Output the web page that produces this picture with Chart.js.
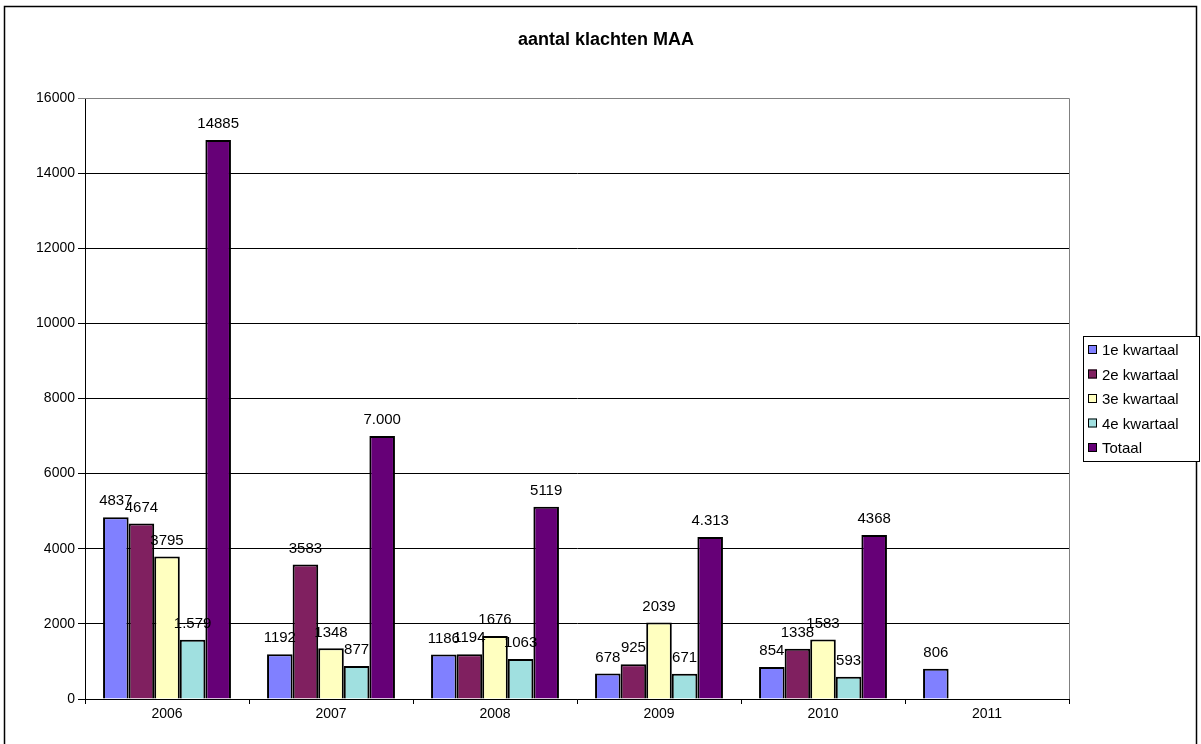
<!DOCTYPE html>
<html lang="nl">
<head>
    <meta charset="UTF-8">
    <title>aantal klachten MAA</title>
    <script src="https://cdn.jsdelivr.net/npm/chart.js"></script>
    <style>
        html, body { margin: 0; padding: 0; background: #fff; }
        #wrap { width: 1201px; height: 744px; }
    </style>
</head>
<body>
    <div id="wrap"><canvas id="klachtenChart" width="1201" height="744"></canvas></div>

    <script>
        // data
        const titleText = 'aantal klachten MAA';
        const years = ['2006', '2007', '2008', '2009', '2010', '2011'];
        const seriesNames = ['1e kwartaal', '2e kwartaal', '3e kwartaal', '4e kwartaal', 'Totaal'];
        const kwartaal1 = [4837, 1192, 1186, 678, 854, 806];
        const kwartaal2 = [4674, 3583, 1194, 925, 1338, null];
        const kwartaal3 = [3795, 1348, 1676, 2039, 1583, null];
        const kwartaal4 = [1579, 877, 1063, 671, 593, null];
        const totaal = [14885, 7000, 5119, 4313, 4368, null];
        // labels as printed on the bars (some use a thousands dot)
        const labels1 = ['4837', '1192', '1186', '678', '854', '806'];
        const labels2 = ['4674', '3583', '1194', '925', '1338', ''];
        const labels3 = ['3795', '1348', '1676', '2039', '1583', ''];
        const labels4 = ['1.579', '877', '1063', '671', '593', ''];
        const labelsTot = ['14885', '7.000', '5119', '4.313', '4368', ''];
        const yTicks = [0, 2000, 4000, 6000, 8000, 10000, 12000, 14000, 16000];

        const colors = ['#8080ff', '#802060', '#ffffc0', '#a0e0e0', '#660077'];
        const allValues = [kwartaal1, kwartaal2, kwartaal3, kwartaal4, totaal];
        const allLabels = [labels1, labels2, labels3, labels4, labelsTot];

        const FONT = '"Liberation Sans", Arial, sans-serif';

        // frame, title, bar value labels and legend box
        const excelLook = {
            id: 'excelLook',
            afterDraw(chart) {
                const ctx = chart.ctx;
                const area = chart.chartArea;
                ctx.save();

                // plot area border top/right in grey
                ctx.strokeStyle = '#808080';
                ctx.lineWidth = 1;
                ctx.beginPath();
                ctx.moveTo(area.left, area.top + 0.5);
                ctx.lineTo(area.right + 0.5, area.top + 0.5);
                ctx.lineTo(area.right + 0.5, area.bottom);
                ctx.stroke();

                // outer frame
                ctx.strokeStyle = '#000';
                ctx.lineWidth = 1.5;
                ctx.strokeRect(4.5, 6.5, 1192, 760);

                // title
                ctx.fillStyle = '#000';
                ctx.font = 'bold 18px ' + FONT;
                ctx.textAlign = 'center';
                ctx.textBaseline = 'middle';
                ctx.fillText(titleText, 606, 40);

                // value labels
                ctx.font = '15px ' + FONT;
                chart.data.datasets.forEach((ds, i) => {
                    const meta = chart.getDatasetMeta(i);
                    meta.data.forEach((bar, j) => {
                        const txt = allLabels[i][j];
                        if (!txt || ds.data[j] == null) return;
                        ctx.fillText(txt, bar.x, bar.y - 16);
                    });
                });

                // legend
                const lx = 1083, ly = 336, lw = 116, lh = 125;
                ctx.fillStyle = '#fff';
                ctx.fillRect(lx, ly, lw, lh);
                ctx.strokeStyle = '#000';
                ctx.lineWidth = 1;
                ctx.strokeRect(lx + 0.5, ly + 0.5, lw, lh);
                ctx.font = '15px ' + FONT;
                ctx.textAlign = 'left';
                seriesNames.forEach((name, i) => {
                    const cy = ly + 14 + i * 24.5;
                    ctx.fillStyle = colors[i];
                    ctx.fillRect(lx + 5, cy - 5, 9, 9);
                    ctx.strokeStyle = '#000';
                    ctx.strokeRect(lx + 5.5, cy - 4.5, 8, 8);
                    ctx.fillStyle = '#000';
                    ctx.fillText(name, lx + 19, cy + 1);
                });
                ctx.restore();
            }
        };

        const ctx = document.getElementById('klachtenChart').getContext('2d');
        new Chart(ctx, {
            type: 'bar',
            data: {
                labels: years,
                datasets: seriesNames.map((name, i) => ({
                    label: name,
                    data: allValues[i],
                    backgroundColor: colors[i],
                    borderColor: '#000',
                    borderWidth: 2,
                    categoryPercentage: 0.78,
                    barPercentage: 1.0
                }))
            },
            options: {
                responsive: false,
                animation: false,
                layout: { padding: { left: 10, right: 132, top: 98, bottom: 15 } },
                plugins: {
                    legend: { display: false },
                    title: { display: false },
                    tooltip: { enabled: false }
                },
                scales: {
                    x: {
                        grid: {
                            display: true,
                            drawOnChartArea: false,
                            offset: true,
                            color: '#000',
                            tickLength: 5
                        },
                        border: { color: '#000', width: 1 },
                        ticks: {
                            color: '#000',
                            font: { family: FONT, size: 14 },
                            padding: 2
                        },
                        afterFit(scale) { scale.height = 30; }
                    },
                    y: {
                        min: 0,
                        max: 16000,
                        afterBuildTicks(scale) {
                            scale.ticks = yTicks.map(v => ({ value: v }));
                        },
                        grid: {
                            color: ctx => ctx.tick && ctx.tick.value === 16000 ? '#808080' : '#000',
                            tickLength: 7
                        },
                        border: { color: '#000', width: 1 },
                        ticks: {
                            color: '#000',
                            font: { family: FONT, size: 14 },
                            padding: 3,
                            callback: v => String(v)
                        },
                        afterFit(scale) { scale.width = 75; }
                    }
                }
            },
            plugins: [excelLook]
        });
    </script>
</body>
</html>
